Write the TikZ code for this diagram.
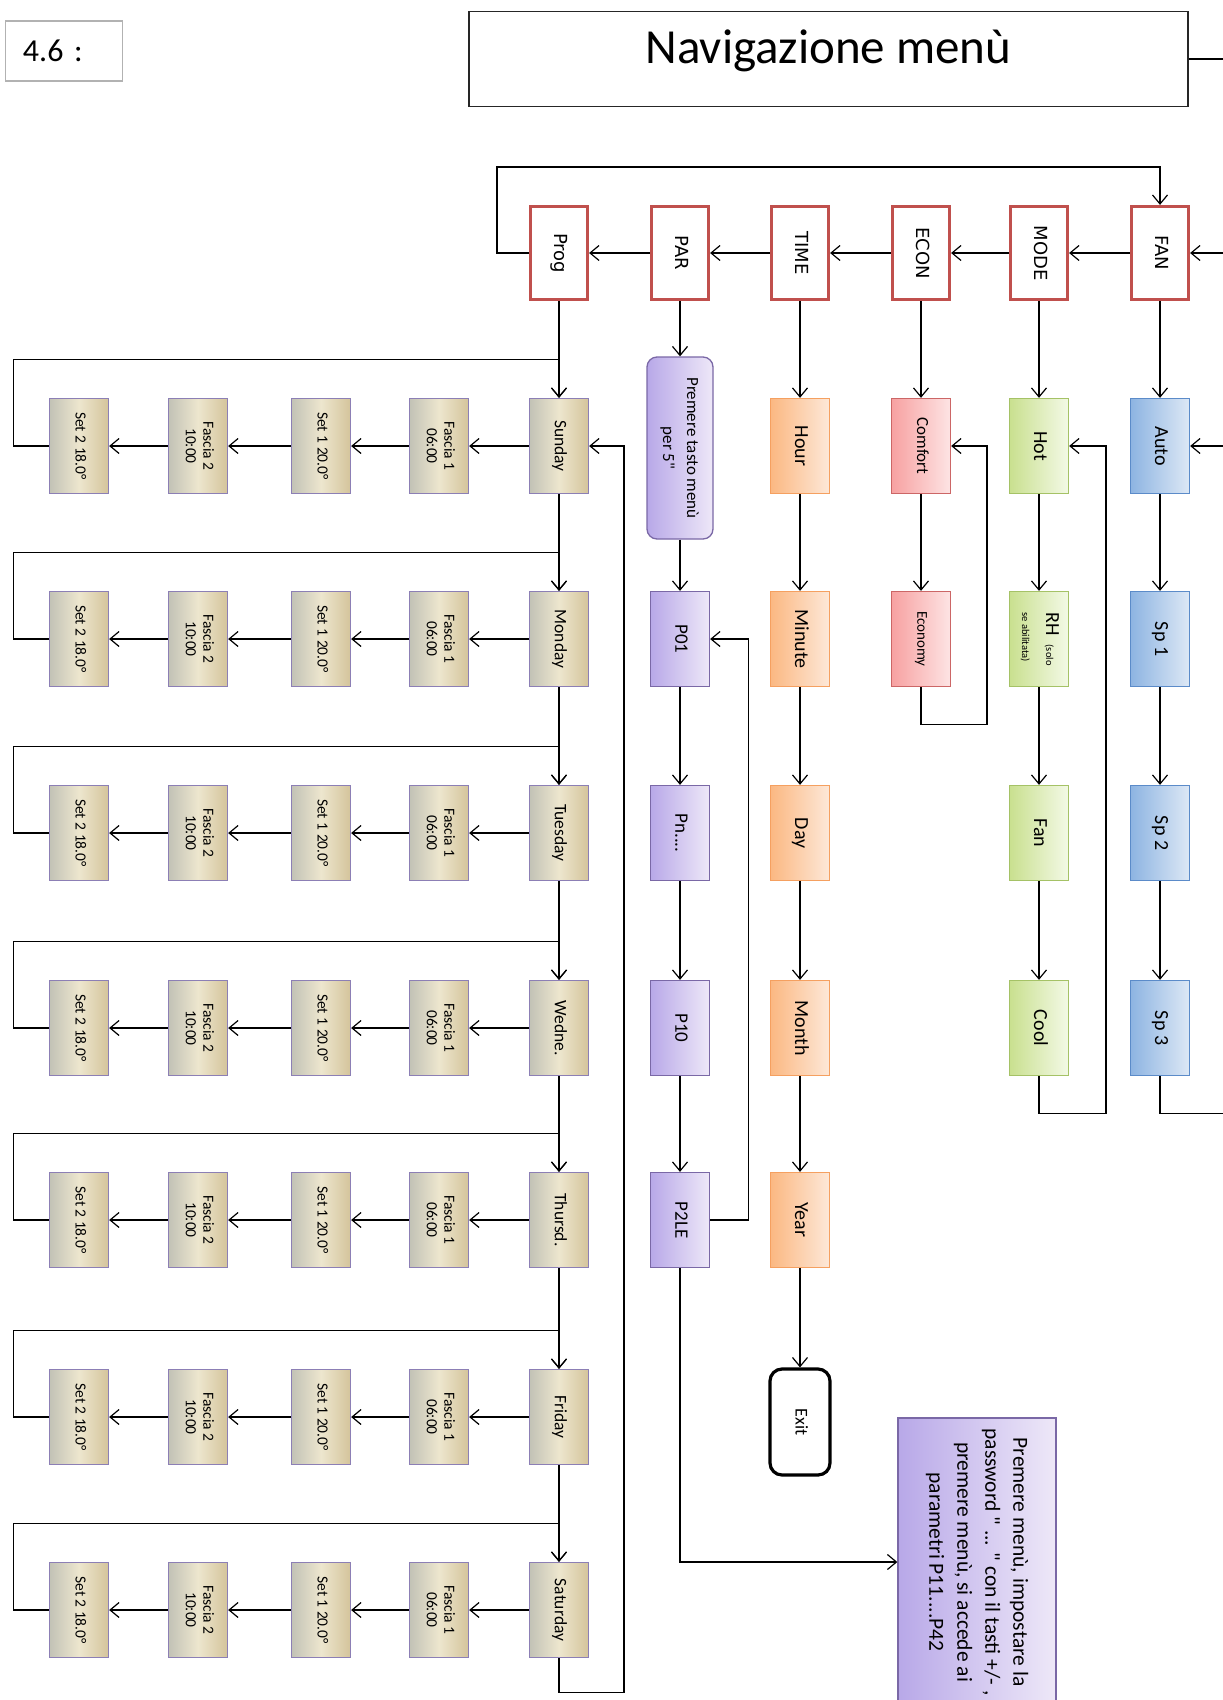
\documentclass[tikz,border=0pt]{standalone}
\usepackage{fontspec}
\setmainfont{Carlito}[Ligatures=TeXOff]
\newfontfamily\verdfont{DejaVu Sans}
\usepackage{graphicx}
\usepackage{tikz}
\usetikzlibrary{arrows.meta}
\definecolor{menured}{HTML}{C0504D}
\definecolor{fanbd}{HTML}{5B8BC9}\definecolor{fanL}{HTML}{8DB4E2}\definecolor{fanR}{HTML}{DDE8F5}
\definecolor{modebd}{HTML}{A5C266}\definecolor{modeL}{HTML}{C9E08F}\definecolor{modeR}{HTML}{F3F9E6}
\definecolor{econbd}{HTML}{CC6666}\definecolor{econL}{HTML}{F7A1A1}\definecolor{econR}{HTML}{FDE4E4}
\definecolor{timebd}{HTML}{F5A060}\definecolor{timeL}{HTML}{FBB882}\definecolor{timeR}{HTML}{FDE8D8}
\definecolor{parbd}{HTML}{7A68A6}\definecolor{parL}{HTML}{B8A8E8}\definecolor{parR}{HTML}{EEE8F8}
\definecolor{daybd}{HTML}{8C7FB5}\definecolor{dayL}{HTML}{C2C2B6}\definecolor{dayM}{HTML}{EDE6CE}\definecolor{dayR}{HTML}{D4C49B}
\newcommand{\vlab}[2][c]{\rotatebox{-90}{\begin{tabular}{@{}#1@{}}#2\end{tabular}}}

\begin{document}
\begin{tikzpicture}[x=1pt,y=-1pt,line width=1.2pt,>={Straight Barb[length=9pt,width=15pt]},
 menu/.style={draw=menured,line width=3.2pt,fill=white,minimum width=57,minimum height=93,font=\verdfont\fontsize{18}{21}\selectfont},
 item/.style={draw,line width=1.3pt,minimum width=59,minimum height=95,inner sep=1pt},
 fanbox/.style={item,draw=fanbd,left color=fanL,right color=fanR,font=\fontsize{20}{24}\selectfont},
 modebox/.style={item,draw=modebd,left color=modeL,right color=modeR,font=\fontsize{20}{24}\selectfont},
 econbox/.style={item,draw=econbd,left color=econL,right color=econR,font=\fontsize{17}{20}\selectfont},
 timebox/.style={item,draw=timebd,left color=timeL,right color=timeR,font=\fontsize{20}{24}\selectfont},
 parbox/.style={item,draw=parbd,left color=parL,right color=parR,font=\fontsize{19}{23}\selectfont},
 daybox/.style={item,draw=daybd,left color=dayL,right color=dayR,middle color=dayM,font=\fontsize{17.5}{21}\selectfont},
 slotbox/.style={daybox,font=\fontsize{15.5}{17.5}\selectfont}]
\path[fill=white] (0,0) rectangle (1223,1700);
\useasboundingbox (0,0) rectangle (1223,1700);
\clip (0,0) rectangle (1223,1700);
\coordinate (rail) at (1228,0);
\node[draw=black!30,line width=1.5pt,minimum width=117,minimum height=60,text width=82pt,font=\fontsize{32}{38}\selectfont] (num) at (64,51) {4.6 :};
\node[draw=black!85,line width=1.8pt,minimum width=719,minimum height=95,text height=31pt,text depth=22pt,font=\fontsize{49}{58}\selectfont] (title) at (828.5,59) {Navigazione menù};
% top menu row
\node[menu] (fanm) at (1160,253) {\vlab{FAN}};
\node[menu] (mode) at (1039,253) {\vlab{MODE}};
\node[menu] (econ) at (921,253) {\vlab{ECON}};
\node[menu] (time) at (800,253) {\vlab{TIME}};
\node[menu] (par) at (680,253) {\vlab{PAR}};
\node[menu] (prog) at (559,253) {\vlab{Prog}};
% FAN / MODE / ECON
\node[fanbox] (auto) at (1160,446) {\vlab{Auto}};
\node[fanbox] (sp1) at (1160,639) {\vlab{Sp 1}};
\node[fanbox] (sp2) at (1160,833) {\vlab{Sp 2}};
\node[fanbox] (sp3) at (1160,1028) {\vlab{Sp 3}};
\node[modebox] (hot) at (1039,446) {\vlab{Hot}};
\node[modebox] (rh) at (1039,639) {\vlab[l]{RH\ \ {\fontsize{10.5}{12}\selectfont(solo}\\{\fontsize{10.5}{12}\selectfont se abilitata)}}};
\node[modebox] (fanmode) at (1039,833) {\vlab{Fan}};
\node[modebox] (cool) at (1039,1028) {\vlab{Cool}};
\node[econbox] (comfort) at (921,446) {\vlab{Comfort}};
\node[econbox,font=\fontsize{15}{18}\selectfont] (economy) at (921,639) {\vlab{Economy}};
% TIME / PAR
\node[timebox] (hour) at (800,446) {\vlab{Hour}};
\node[timebox] (minute) at (800,639) {\vlab{Minute}};
\node[timebox] (day) at (800,833) {\vlab{Day}};
\node[timebox] (month) at (800,1028) {\vlab{Month}};
\node[timebox] (year) at (800,1220) {\vlab{Year}};
\node[draw,line width=3.2pt,rounded corners=12pt,fill=white,minimum width=60,minimum height=106,font=\fontsize{18}{22}\selectfont] (exit) at (800,1422) {\vlab{Exit}};
\node[parbox,rounded corners=10pt,minimum width=66,minimum height=182,font=\fontsize{17}{24}\selectfont] (press) at (680,448) {\vlab{Premere tasto menù\\per  5"}};
\node[parbox] (p01) at (680,639) {\vlab{P01}};
\node[parbox] (pn) at (680,833) {\vlab{Pn....}};
\node[parbox] (p10) at (680,1028) {\vlab{P10}};
\node[parbox] (p2le) at (680,1220) {\vlab{P2LE}};
\node[parbox,minimum width=158,minimum height=288,font=\fontsize{21.5}{28}\selectfont] (note) at (977,1562) {\vlab{Premere menù, impostare la\\password " ... " con il tasti +/- ,\\premere menù, si accede ai\\parametri  P11....P42}};
% Prog: one row per day
\foreach \d/\lab/\y in {sun/Sunday/446,mon/Monday/639,tue/Tuesday/833,wed/Wedne./1028,thu/Thursd./1220,fri/Friday/1417,sat/Saturday/1610}{
  \node[daybox] (\d) at (559,\y) {\vlab{\lab}};
  \node[slotbox] (\d-f1) at (439,\y) {\vlab{Fascia 1\\06:00}};
  \node[slotbox] (\d-s1) at (321,\y) {\vlab{Set 1 20.0°}};
  \node[slotbox] (\d-f2) at (198,\y) {\vlab{Fascia 2\\10:00}};
  \node[slotbox] (\d-s2) at (79,\y) {\vlab{Set 2 18.0°}};
  \draw[->] (\d)--(\d-f1); \draw[->] (\d-f1)--(\d-s1); \draw[->] (\d-s1)--(\d-f2); \draw[->] (\d-f2)--(\d-s2);
  \draw[->] (\d-s2.west) -- ++(-35,0) |- ([yshift=38pt]\d.north) -- (\d);
}
% connectors
\draw[->] (title.east) -- (rail |- title.east) -- (rail |- fanm) -- (fanm);
\draw[->] (fanm)--(mode); \draw[->] (mode)--(econ); \draw[->] (econ)--(time); \draw[->] (time)--(par); \draw[->] (par)--(prog);
\draw[->] (prog.west) -- ++(-32,0) -- ++(0,-86) -| (fanm);
\draw[->] (fanm)--(auto); \draw[->] (auto)--(sp1); \draw[->] (sp1)--(sp2); \draw[->] (sp2)--(sp3);
\draw[->] (sp3.south) -- ++(0,37) coordinate (sp3low) -- (rail |- sp3low) -- (rail |- auto) -- (auto);
\draw[->] (mode)--(hot); \draw[->] (hot)--(rh); \draw[->] (rh)--(fanmode); \draw[->] (fanmode)--(cool);
\draw[->] (cool.south) -- ++(0,37) -- ++(67,0) |- (hot);
\draw[->] (econ)--(comfort); \draw[->] (comfort)--(economy);
\draw[->] (economy.south) -- ++(0,37) -- ++(66,0) |- (comfort);
\draw[->] (time)--(hour); \draw[->] (hour)--(minute); \draw[->] (minute)--(day); \draw[->] (day)--(month); \draw[->] (month)--(year); \draw[->] (year)--(exit);
\draw[->] (par)--(press); \draw[->] (press)--(p01); \draw[->] (p01)--(pn); \draw[->] (pn)--(p10); \draw[->] (p10)--(p2le);
\draw[->] (p2le.east) -- ++(38,0) |- (p01);
\draw[->] (p2le) |- (note);
\draw[->] (prog)--(sun); \draw[->] (sun)--(mon); \draw[->] (mon)--(tue); \draw[->] (tue)--(wed); \draw[->] (wed)--(thu); \draw[->] (thu)--(fri); \draw[->] (fri)--(sat);
\draw[->] (sat.south) -- ++(0,34) -- ++(65,0) |- (sun);
\end{tikzpicture}
\end{document}
